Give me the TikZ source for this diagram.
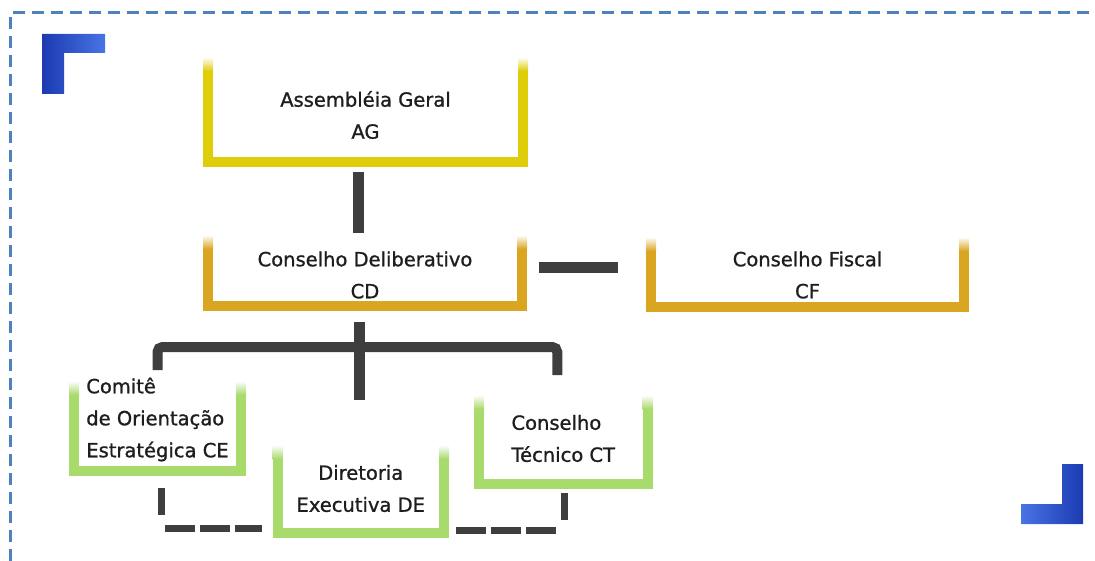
\documentclass[tikz,border=0pt]{standalone}
\usepackage{fontspec}
\setmainfont{DejaVu Sans}
\newfontfamily\boxfont{DejaVu Sans}[FakeBold=1.1]
\usetikzlibrary{positioning}

\definecolor{agyellow}{RGB}{224,205,10}
\definecolor{cdgold}{RGB}{218,165,32}
\definecolor{lgreen}{RGB}{168,218,108}
\definecolor{bardark}{RGB}{62,62,62}
\definecolor{frameblue}{RGB}{79,129,189}
\definecolor{cornerdark}{RGB}{28,58,178}
\definecolor{cornerlight}{RGB}{72,116,228}
\definecolor{textdark}{RGB}{30,30,30}

% open bracket under a box, faded at the top
\newcommand{\ubox}[3]{%
  \draw[ubar, #2] ([yshift=#3pt-14pt]#1.north west) -- (#1.south west) -- (#1.south east) -- ([yshift=#3pt-14pt]#1.north east);
  \shade[top color=white, bottom color=#2] ([xshift=-5pt,yshift=#3pt]#1.north west) rectangle ([xshift=5pt,yshift=#3pt-14pt]#1.north west);
  \shade[top color=white, bottom color=#2] ([xshift=-5pt,yshift=#3pt]#1.north east) rectangle ([xshift=5pt,yshift=#3pt-14pt]#1.north east);
}

\begin{document}
\begin{tikzpicture}[
    x=1pt, y=-1pt,
    box/.style={inner sep=0pt, outer sep=0pt, align=center, text=textdark, font={\boxfont\fontsize{19.5}{32}\selectfont}},
    ubar/.style={line width=10pt, line join=miter},
    link/.style={draw=bardark, line width=11pt},
    dashlink/.style={draw=bardark, line width=7pt, dash pattern=on 30pt off 5pt},
    frameline/.style={draw=frameblue, line width=3pt, dash pattern=on 12pt off 7pt}
]
\useasboundingbox (0,0) rectangle (1095,561);
\draw[frameline] (10,561) -- (10,13) -- (1095,13);
\shade[left color=cornerdark, right color=cornerlight] (42,34) -- (105,34) -- (105,53) -- (64,53) -- (64,94) -- (42,94) -- cycle;
\shade[left color=cornerlight, right color=cornerdark] (1021,504) -- (1062,504) -- (1062,464) -- (1083,464) -- (1083,524) -- (1021,524) -- cycle;

\node[box, minimum width=315pt, minimum height=95pt] (ag) at (365.5,115) {Assembléia Geral\\AG};
\node[box, minimum width=314pt, minimum height=62pt] (cd) at (365,275) {Conselho Deliberativo\\CD};
\node[box, minimum width=313pt, minimum height=64pt] (cf) at (807.5,275) {Conselho Fiscal\\CF};
\node[box, align=left, minimum width=167pt, minimum height=103pt] (ce) at (157.5,419.5) {Comitê\\de Orientação\\Estratégica CE};
\node[box, minimum width=166.5pt, minimum height=89pt] (de) at (360.75,488.5) {Diretoria\\Executiva DE};
\node[box, align=left, minimum width=168.5pt, minimum height=91pt] (ct) at (563.25,438.5) {Conselho\\Técnico CT};

\ubox{ag}{agyellow}{10.5}
\ubox{cd}{cdgold}{9}
\ubox{cf}{cdgold}{6}
\ubox{ce}{lgreen}{-13}
\ubox{de}{lgreen}{-1}
\ubox{ct}{lgreen}{-2}

\coordinate (hub) at ([xshift=-6pt,yshift=-41pt]cd.south);
\draw[link] ([xshift=-7.5pt,yshift=-10pt]ag.south) -- ([xshift=-7pt,yshift=11pt]cd.north);
\draw[link] ([xshift=17pt,yshift=7.5pt]cd.east) -- ([xshift=-33pt,yshift=7.5pt]cf.west);
\draw[link] ([xshift=-6pt,yshift=-16pt]cd.south) -- ++(0,78);
\draw[link, line width=10pt, rounded corners=5pt] ([yshift=-2pt]ce.north) |- (hub) -| ([xshift=-6pt,yshift=18pt]ct.north);

\draw[link, line width=7pt] ([xshift=4pt,yshift=-17pt]ce.south) -- ++(0,27);
\draw[dashlink] ([xshift=7.5pt,yshift=-57.5pt]ce.south) -- ([xshift=-15.5pt,yshift=-40pt]de.west);
\draw[link, line width=7pt] ([xshift=0.75pt,yshift=-9pt]ct.south) -- ++(0,27);
\draw[dashlink] ([xshift=12pt,yshift=-41.5pt]de.east) -- ([xshift=-5pt,yshift=-46pt]ct.south);
\end{tikzpicture}
\end{document}
